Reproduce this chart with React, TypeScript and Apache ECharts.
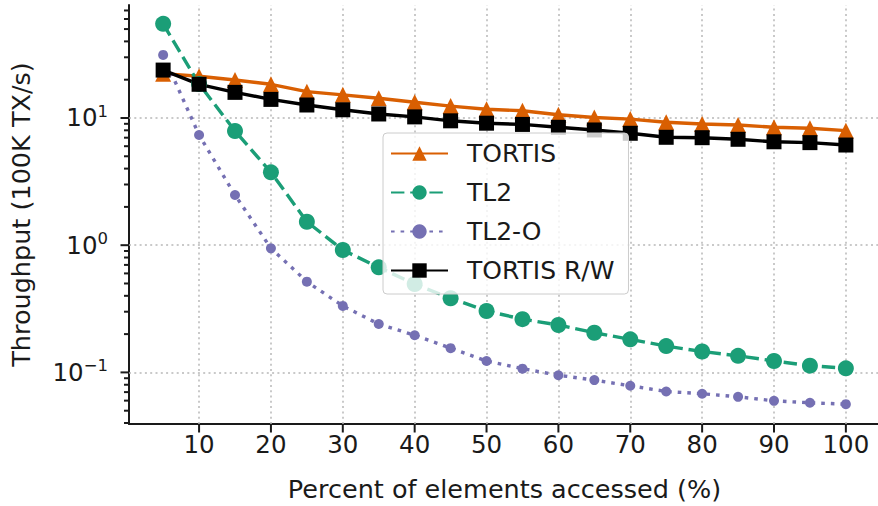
import React, { useEffect, useRef } from 'react';
import * as echarts from 'echarts';

const percents = [5, 10, 15, 20, 25, 30, 35, 40, 45, 50, 55, 60, 65, 70, 75, 80, 85, 90, 95, 100];
const tortis = [22.3, 21.3, 19.9, 18.4, 16.1, 15.2, 14.3, 13.3, 12.4, 11.7, 11.4, 10.6, 10.1, 9.8, 9.25, 8.97, 8.81, 8.45, 8.3, 7.95];
const tl2 = [55, 18.5, 7.9, 3.74, 1.53, 0.916, 0.67, 0.495, 0.383, 0.304, 0.262, 0.236, 0.205, 0.182, 0.161, 0.146, 0.135, 0.123, 0.113, 0.1076];
const tl2o = [31.3, 7.35, 2.48, 0.945, 0.517, 0.333, 0.24, 0.196, 0.155, 0.123, 0.107, 0.095, 0.087, 0.0785, 0.0708, 0.068, 0.0643, 0.0598, 0.0577, 0.0563];
const tortisRW = [23.8, 18.4, 15.9, 14.0, 12.65, 11.6, 10.75, 10.2, 9.5, 9.1, 8.9, 8.45, 8.05, 7.58, 7.05, 7.0, 6.8, 6.5, 6.4, 6.13];

const seriesNames = ['TORTIS', 'TL2', 'TL2-O', 'TORTIS R/W'];
const xTickValues = [10, 20, 30, 40, 50, 60, 70, 80, 90, 100];
const yMajorTicks = [0.1, 1, 10];
const yMinorTicks = [
  0.04, 0.05, 0.06, 0.07, 0.08, 0.09,
  0.2, 0.3, 0.4, 0.5, 0.6, 0.7, 0.8, 0.9,
  2, 3, 4, 5, 6, 7, 8, 9,
  20, 30, 40, 50, 60, 70,
];

const X_MIN = 0.25;
const X_MAX = 104.75;
const Y_MIN = 0.0393;
const Y_MAX = 77.3;

const FONT = '"DejaVu Sans", sans-serif';
const TEXT = '#1a1a1a';
const AXIS = '#1a1a1a';
const GRID = '#b8b8b8';
const FS = 24.5;
const NAME_FS = 25.5;

const pairs = (arr: number[]) => percents.map((x, i) => [x, arr[i]]);

export default function App() {
  const ref = useRef<HTMLDivElement>(null);

  useEffect(() => {
    document.body.style.margin = '0';
    if (!ref.current) return;
    const chart = echarts.init(ref.current, undefined, { renderer: 'svg' });

    const yTickData = [
      ...yMajorTicks.map((v) => [X_MIN, v, 8.5]),
      ...yMinorTicks.map((v) => [X_MIN, v, 5]),
    ];
    const xTickData = xTickValues.map((v) => [v, Y_MIN, 8.5]);

    const gridLineStyle = { color: GRID, width: 1.5, type: [2, 3.3] as any };

    chart.setOption({
      animation: false,
      backgroundColor: '#ffffff',
      grid: { left: 129, right: -2, top: 5, bottom: 82, containLabel: false, outerBoundsMode: 'none' },
      xAxis: {
        type: 'value',
        min: X_MIN,
        max: X_MAX,
        splitNumber: 10,
        axisLine: { show: true, lineStyle: { color: AXIS, width: 2 } },
        axisTick: { show: false },
        splitLine: { show: false },
        axisLabel: {
          show: true,
          showMinLabel: false,
          showMaxLabel: false,
          margin: 8,
          fontSize: FS,
          fontFamily: FONT,
          color: TEXT,
        },
        name: 'Percent of elements accessed (%)',
        nameLocation: 'middle',
        nameGap: 52,
        nameTextStyle: { fontSize: NAME_FS, fontFamily: FONT, color: TEXT },
      },
      yAxis: {
        type: 'log',
        logBase: 10,
        min: Y_MIN,
        max: Y_MAX,
        axisLine: { show: true, lineStyle: { color: AXIS, width: 2 } },
        axisTick: { show: false },
        splitLine: { show: false },
        axisLabel: {
          show: true,
          showMinLabel: false,
          showMaxLabel: false,
          margin: 21,
          formatter: (v: number) => {
            const e = Math.round(Math.log10(v));
            const s = e < 0 ? '\u2212' + String(-e) : String(e);
            return `{b|10}{s|${s}}`;
          },
          rich: {
            b: { fontSize: FS, lineHeight: 30, fontFamily: FONT, color: TEXT },
            s: { fontSize: 16.5, lineHeight: 16, verticalAlign: 'top', fontFamily: FONT, color: TEXT },
          },
        },
        name: 'Throughput (100K TX/s)',
        nameLocation: 'middle',
        nameRotate: 90,
        nameGap: 95,
        nameTextStyle: { fontSize: NAME_FS, fontFamily: FONT, color: TEXT },
      },
      legend: {
        data: seriesNames,
        orient: 'vertical',
        left: 383,
        top: 133,
        itemWidth: 57,
        itemHeight: 18,
        itemGap: 14,
        padding: [8, 14, 11, 7],
        backgroundColor: 'rgba(255,255,255,0.8)',
        borderColor: '#cccccc',
        borderWidth: 1,
        borderRadius: 4,
        textStyle: { fontSize: 25, fontFamily: FONT, color: TEXT, padding: [0, 0, 0, 14] },
        selectedMode: false,
      },
      series: [
        {
          name: 'gridlines',
          type: 'line',
          data: [],
          z: 1,
          silent: true,
          markLine: {
            z: 1,
            silent: true,
            symbol: 'none',
            label: { show: false },
            lineStyle: gridLineStyle,
            emphasis: { disabled: true },
            data: [
              ...yMajorTicks.map((v) => ({ yAxis: v })),
              ...xTickValues.map((v) => ({ xAxis: v })),
            ],
          },
        },
        {
          name: 'yticks',
          type: 'custom',
          silent: true,
          z: 3,
          clip: false,
          data: yTickData,
          encode: { x: 0, y: 1 },
          renderItem: (params: any, api: any) => {
            const p = api.coord([api.value(0), api.value(1)]);
            const len = api.value(2);
            return {
              type: 'line',
              shape: { x1: p[0] - len, y1: p[1], x2: p[0], y2: p[1] },
              style: { stroke: AXIS, lineWidth: 2 },
            };
          },
        },
        {
          name: 'xticks',
          type: 'custom',
          silent: true,
          z: 3,
          clip: false,
          data: xTickData,
          encode: { x: 0, y: 1 },
          renderItem: (params: any, api: any) => {
            const p = api.coord([api.value(0), api.value(1)]);
            const len = api.value(2);
            return {
              type: 'line',
              shape: { x1: p[0], y1: p[1], x2: p[0], y2: p[1] + len },
              style: { stroke: AXIS, lineWidth: 2 },
            };
          },
        },
        {
          name: 'TORTIS',
          type: 'line',
          data: pairs(tortis),
          symbol: 'triangle',
          symbolSize: 16,
          showAllSymbol: true,
          lineStyle: { color: '#d95f02', width: 3.4 },
          itemStyle: { color: '#d95f02' },
          z: 2,
        },
        {
          name: 'TL2',
          type: 'line',
          data: pairs(tl2),
          symbol: 'circle',
          symbolSize: 16,
          showAllSymbol: true,
          lineStyle: { color: '#1b9e77', width: 3.4, type: [13.4, 5.8] },
          itemStyle: { color: '#1b9e77' },
          z: 2,
        },
        {
          name: 'TL2-O',
          type: 'line',
          data: pairs(tl2o),
          symbol: 'circle',
          symbolSize: 10,
          showAllSymbol: true,
          lineStyle: { color: '#7570b3', width: 3.4, type: [3.6, 6] },
          itemStyle: { color: '#7570b3' },
          z: 2,
        },
        {
          name: 'TORTIS R/W',
          type: 'line',
          data: pairs(tortisRW),
          symbol: 'rect',
          symbolSize: 15,
          showAllSymbol: true,
          lineStyle: { color: '#000000', width: 3.4 },
          itemStyle: { color: '#000000' },
          z: 2,
        },
      ],
    });

    return () => chart.dispose();
  }, []);

  return <div ref={ref} style={{ width: 878, height: 506 }} />;
}
